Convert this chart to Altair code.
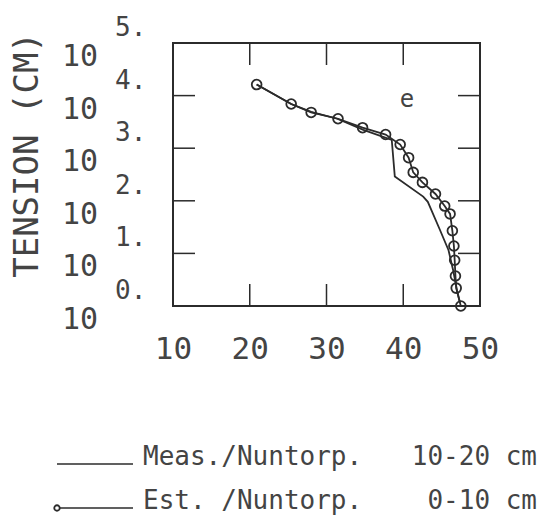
import altair as alt
import pandas as pd

# ---- data ----
est_x = [20.9, 25.4, 28.0, 31.5, 34.7, 37.7, 39.6, 40.7, 41.3, 42.5, 44.2, 45.4, 46.1, 46.4, 46.6, 46.7, 46.8, 46.9, 47.5]
est_y = [4.21, 3.84, 3.68, 3.56, 3.39, 3.26, 3.07, 2.82, 2.54, 2.35, 2.13, 1.90, 1.75, 1.43, 1.14, 0.87, 0.57, 0.34, 0.0]

meas_x = [20.9, 25.4, 28.0, 31.4, 34.8, 38.5, 38.9, 42.6, 43.2, 44.8, 45.9, 46.5, 47.0, 47.4]
meas_y = [4.21, 3.84, 3.69, 3.56, 3.35, 3.16, 2.46, 2.08, 1.98, 1.44, 1.06, 0.68, 0.30, 0.06]

x_ticks = [10, 20, 30, 40, 50]
x_inner_ticks = [20, 30, 40]
y_ticks = [0, 1, 2, 3, 4, 5]
y_inner_ticks = [1, 2, 3, 4]
y_base = ["10"] * 6
y_exp = ["0.", "1.", "2.", "3.", "4.", "5."]
y_title = "TENSION (CM)"
panel_label = ["e"]
panel_label_x = [40.5]
panel_label_y = [3.92]
legend_names = ["Meas./Nuntorp.", "Est. /Nuntorp."]
legend_depths = ["10-20 cm", "0-10 cm"]

W, H = 307, 263
FONT = "DejaVu Sans Mono"
INK = "#2b2b2b"
TXT = "#444444"

xs = alt.Scale(domain=[10, 50], nice=False, zero=False)
ys = alt.Scale(domain=[0, 5], nice=False, zero=False)

est = pd.DataFrame({"x": est_x, "y": est_y, "i": range(len(est_x))})
meas = pd.DataFrame({"x": meas_x, "y": meas_y, "i": range(len(meas_x))})

xaxis = alt.Axis(values=x_ticks, labelFontSize=31, labelFont=FONT, labelColor=TXT,
                 ticks=False, domain=False, grid=False, labelPadding=28,
                 labelFlush=False, labelOverlap=False, title=None)

meas_line = alt.Chart(meas).mark_line(color=INK, strokeWidth=1.8).encode(
    x=alt.X("x:Q", scale=xs, axis=xaxis),
    y=alt.Y("y:Q", scale=ys, axis=None),
    order="i:Q",
)
est_line = alt.Chart(est).mark_line(color=INK, strokeWidth=1.8).encode(
    x=alt.X("x:Q", scale=xs), y=alt.Y("y:Q", scale=ys), order="i:Q"
)
est_pts = alt.Chart(est).mark_point(shape="circle", filled=False, size=95,
                                    strokeWidth=1.8, color=INK, opacity=1).encode(
    x=alt.X("x:Q", scale=xs), y=alt.Y("y:Q", scale=ys)
)

# inward ticks
xt = pd.DataFrame({"t": x_inner_ticks})
yt = pd.DataFrame({"t": y_inner_ticks})
tick_style = dict(color=INK, strokeWidth=1.5)
top_ticks = alt.Chart(xt).mark_rule(**tick_style).encode(
    x=alt.X("t:Q", scale=xs), y=alt.value(0), y2=alt.value(22))
bot_ticks = alt.Chart(xt).mark_rule(**tick_style).encode(
    x=alt.X("t:Q", scale=xs), y=alt.value(H - 22), y2=alt.value(H))
left_ticks = alt.Chart(yt).mark_rule(**tick_style).encode(
    y=alt.Y("t:Q", scale=ys), x=alt.value(0), x2=alt.value(22))
right_ticks = alt.Chart(yt).mark_rule(**tick_style).encode(
    y=alt.Y("t:Q", scale=ys), x=alt.value(W - 22), x2=alt.value(W))

# y labels: 10 with exponent
ylab = pd.DataFrame({"v": y_ticks, "b": y_base, "e": y_exp})
ybase = alt.Chart(ylab).mark_text(font=FONT, fontSize=30, color=TXT, align="center",
                                  baseline="middle", dy=14).encode(
    y=alt.Y("v:Q", scale=ys), x=alt.value(-93), text="b:N")
yexp = alt.Chart(ylab).mark_text(font=FONT, fontSize=26, color=TXT, align="left",
                                 baseline="middle", dy=-15).encode(
    y=alt.Y("v:Q", scale=ys), x=alt.value(-58), text="e:N")

title = alt.Chart(pd.DataFrame({"t": [y_title]})).mark_text(
    font=FONT, fontSize=34, color=TXT, angle=270, align="center", baseline="middle").encode(
    x=alt.value(28 - 173), y=alt.value(155 - 43), text="t:N")

elab = alt.Chart(pd.DataFrame({"t": panel_label, "x": panel_label_x, "y": panel_label_y})).mark_text(
    font=FONT, fontSize=24, color=TXT, baseline="middle").encode(
    x=alt.X("x:Q", scale=xs), y=alt.Y("y:Q", scale=ys), text="t:N")

# legend
leg = pd.DataFrame({"name": legend_names, "depth": legend_depths,
                    "row": [0, 1]})
leg_rows = []
for r, yb in [(0, 422), (1, 466)]:
    d = leg[leg.row == r]
    leg_rows.append(alt.Chart(d).mark_rule(color=INK, strokeWidth=1.5).encode(
        x=alt.value(-116 if r == 0 else -113), x2=alt.value(-40), y=alt.value(yb - 1)))
    leg_rows.append(alt.Chart(d).mark_text(font=FONT, fontSize=26, color=TXT, align="left",
                                           baseline="alphabetic").encode(
        x=alt.value(-30), y=alt.value(yb), text="name:N"))
    leg_rows.append(alt.Chart(d).mark_text(font=FONT, fontSize=26, color=TXT, align="right",
                                           baseline="alphabetic").encode(
        x=alt.value(364), y=alt.value(yb), text="depth:N"))
leg_circle = alt.Chart(leg[leg.row == 1]).mark_point(shape="circle", filled=False, size=30,
                                                    strokeWidth=1.8, color=INK, opacity=1).encode(
    x=alt.value(-116), y=alt.value(465))

chart = alt.layer(
    meas_line, top_ticks, bot_ticks, left_ticks, right_ticks,
    est_line, est_pts, ybase, yexp, title, elab, *leg_rows, leg_circle
).properties(
    width=W, height=H,
    autosize=alt.AutoSizeParams(type="none"),
    padding={"left": 173, "top": 43, "right": 63, "bottom": 211},
).configure(
    background="white",
    view=alt.ViewConfig(stroke=INK, strokeWidth=2),
)

chart.save("out.html", embed_options={"renderer": "svg", "actions": False})
